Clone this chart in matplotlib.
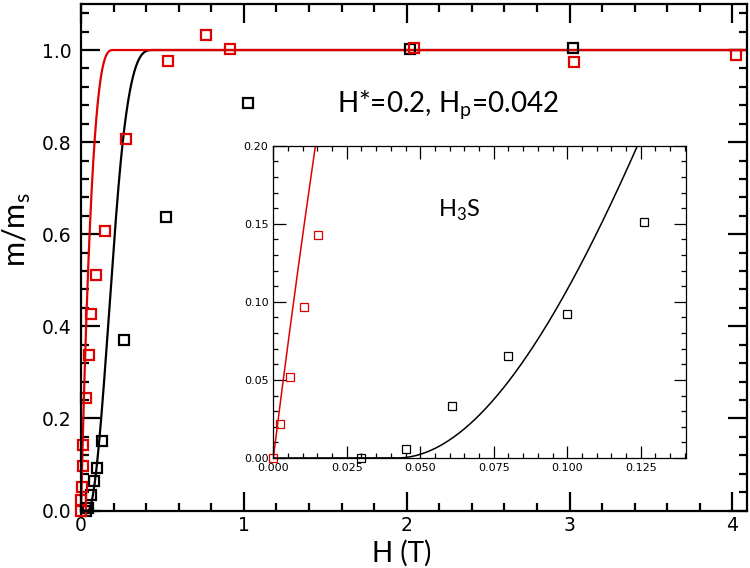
"""Trapped moment vs field for H3S, Bean-model curves for a cylinder"""

import matplotlib

matplotlib.use("Agg")
import matplotlib.pyplot as plt
import numpy as np
from matplotlib.ticker import MultipleLocator

fc_H = [0.0, 0.0023, 0.0057, 0.0104, 0.0151, 0.032, 0.048, 0.063, 0.093, 0.145,
        0.276, 0.534, 0.769, 0.918, 2.045, 3.03, 4.02]
fc_m = [0.0, 0.022, 0.052, 0.097, 0.143, 0.245, 0.337, 0.426, 0.511, 0.607,
        0.806, 0.976, 1.033, 1.002, 1.005, 0.975, 0.989]
zfc_H = [0.030, 0.0453, 0.0607, 0.080, 0.100, 0.126, 0.264, 0.524, 1.025, 2.018, 3.02]
zfc_m = [0.0, 0.006, 0.033, 0.065, 0.092, 0.151, 0.370, 0.637, 0.884, 1.0015, 1.004]

# model parameters printed on the chart
H_STAR = 0.2
H_P = 0.042

main_xticks = [0, 1, 2, 3, 4]
main_yticks = [0.0, 0.2, 0.4, 0.6, 0.8, 1.0]
inset_xticks = [0.0, 0.025, 0.05, 0.075, 0.1, 0.125]
inset_yticks = [0.0, 0.05, 0.10, 0.15, 0.20]

INSET_XMAX = 0.1403
INSET_YMAX = 0.2
LABEL_FONT = ["Lato", "DejaVu Sans"]


def fc_model(h):
    """Field-cooled trapped moment, Bean model for a cylinder"""
    x = np.clip(h / H_STAR, 0, 1)
    return 1 - (1 - x) ** 3


def zfc_model(h):
    """Zero-field-cooled trapped moment, Bean model for a cylinder"""
    x = np.clip((h - H_P) / H_STAR, 0, 2)
    return np.where(x < 1, 1.5 * x**2 - 0.75 * x**3, 1 - (2 - x) ** 3 / 4)


def in_inset(hs, ms):
    """Keep only the points inside the inset window"""
    pts = [(h, m) for h, m in zip(hs, ms) if h <= INSET_XMAX and m <= INSET_YMAX]
    return [p[0] for p in pts], [p[1] for p in pts]


def style_axis(ax, major_len, minor_len, width, labelsize):
    ax.tick_params(which="both", direction="in", top=True, right=True, width=width,
                   labelsize=labelsize)
    ax.tick_params(which="major", length=major_len)
    ax.tick_params(which="minor", length=minor_len)
    for spine in ax.spines.values():
        spine.set_linewidth(width)


h_grid = np.concatenate((np.linspace(0, 0.5, 2000), np.linspace(0.5, 4.2, 200)))

fig = plt.figure(figsize=(7.5, 5.68), dpi=100)
ax = fig.add_axes([0.108, 0.1012, 0.888, 0.8918])
ax.plot(h_grid, zfc_model(h_grid), color="black", lw=1.6)
ax.plot(h_grid, fc_model(h_grid), color="#e00000", lw=1.6)
ax.plot(zfc_H, zfc_m, "s", mfc="none", mec="black", ms=7.2, mew=1.6, clip_on=False)
ax.plot(fc_H, fc_m, "s", mfc="none", mec="#e00000", ms=7.2, mew=1.6, clip_on=False)
ax.set_xlim(0, 4.09)
ax.set_ylim(0, 1.1)
ax.set_xticks(main_xticks)
ax.set_yticks(main_yticks)
ax.xaxis.set_minor_locator(MultipleLocator(0.2))
ax.yaxis.set_minor_locator(MultipleLocator(0.04))
ax.set_yticklabels([f"{v:.1f}" for v in main_yticks])
style_axis(ax, 14, 5.5, 1.6, 13.5)
ax.tick_params(axis="x", pad=4)
ax.tick_params(axis="y", pad=7)
ax.set_xlabel("H (T)", fontsize=20, family=LABEL_FONT)
ax.xaxis.set_label_coords(0.482, -0.058)
ax.set_ylabel(r"m/m$_\mathregular{s}$", fontsize=22, family=LABEL_FONT)
ax.yaxis.set_label_coords(-0.072, 0.554)
ax.text(0.384, 0.787, r"H*=0.2, H$_\mathregular{p}$=0.042", transform=ax.transAxes,
        fontsize=20, family=LABEL_FONT, ha="left", va="baseline")

ins = fig.add_axes([0.3644, 0.1937, 0.5499, 0.5498])
ins.plot(h_grid, zfc_model(h_grid), color="black", lw=1.1)
ins.plot(h_grid, fc_model(h_grid), color="#e00000", lw=1.1)
zx, zy = in_inset(zfc_H, zfc_m)
fx, fy = in_inset(fc_H, fc_m)
ins.plot(zx, zy, "s", mfc="none", mec="black", ms=5.8, mew=0.9, clip_on=False)
ins.plot(fx, fy, "s", mfc="none", mec="#e00000", ms=5.8, mew=0.9, clip_on=False)
ins.set_xlim(0, INSET_XMAX)
ins.set_ylim(0, INSET_YMAX)
ins.set_xticks(inset_xticks)
ins.set_yticks(inset_yticks)
ins.set_xticklabels([f"{v:.3f}" for v in inset_xticks])
ins.set_yticklabels([f"{v:.2f}" for v in inset_yticks])
ins.xaxis.set_minor_locator(MultipleLocator(0.005))
ins.yaxis.set_minor_locator(MultipleLocator(0.01))
style_axis(ins, 9, 3.6, 0.9, 8)
ins.text(0.399, 0.773, r"H$_\mathregular{3}$S", transform=ins.transAxes,
         fontsize=17, family=LABEL_FONT, ha="left", va="baseline")

plt.savefig("out.png", dpi=100)
